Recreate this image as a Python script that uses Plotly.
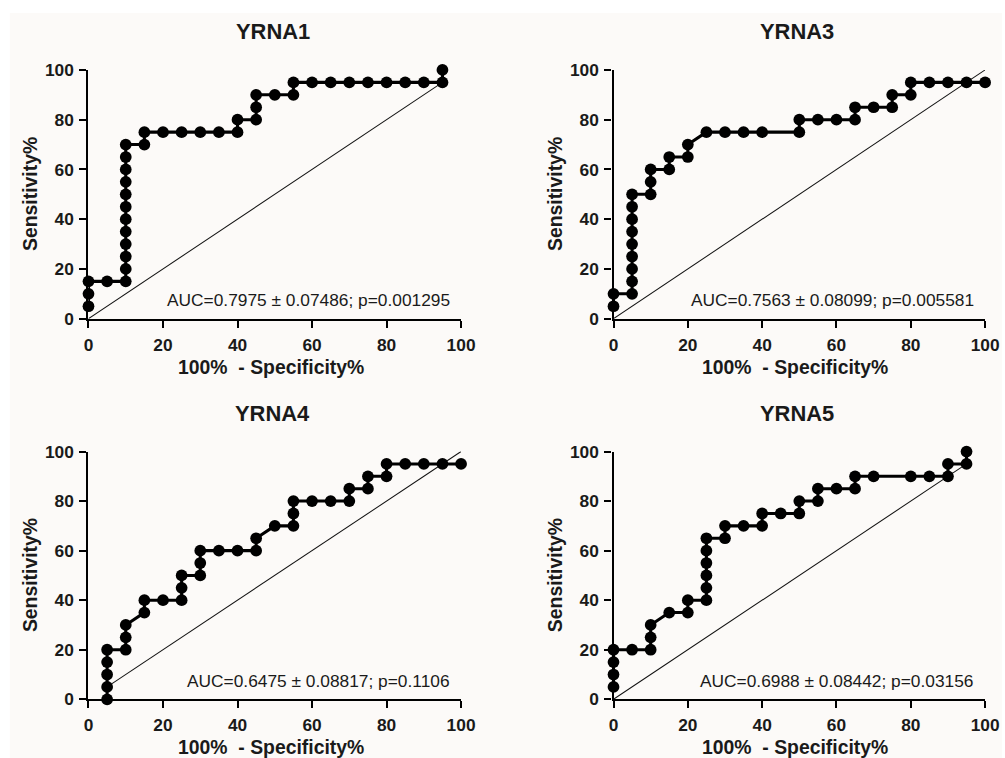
import plotly.graph_objects as go

# The capture maps figure pixels to page pixels approx. as page = a + s*fig; design in page px.
AX, SX = 4.2, 0.985
AY, SY = 8.0, 0.975
S = (SX + SY) / 2
PAGE_W, PAGE_H = 1005, 758
W = int(round((PAGE_W - AX) / SX))
H = int(round((PAGE_H - AY) / SY))

titles = ["YRNA1", "YRNA3", "YRNA4", "YRNA5"]
auc_texts = [
    "AUC=0.7975 ± 0.07486; p=0.001295",
    "AUC=0.7563 ± 0.08099; p=0.005581",
    "AUC=0.6475 ± 0.08817; p=0.1106",
    "AUC=0.6988 ± 0.08442; p=0.03156",
]

# 100% - Specificity% (x) and Sensitivity% (y) for each panel
x_yrna1 = [0, 0, 0, 5, 10, 10, 10, 10, 10, 10, 10, 10, 10, 10, 10, 10, 15, 15, 20, 25, 30, 35, 40, 40,
           45, 45, 45, 50, 55, 55, 60, 65, 70, 75, 80, 85, 90, 95, 95]
y_yrna1 = [5, 10, 15, 15, 15, 20, 25, 30, 35, 40, 45, 50, 55, 60, 65, 70, 70, 75, 75, 75, 75, 75, 75, 80,
           80, 85, 90, 90, 90, 95, 95, 95, 95, 95, 95, 95, 95, 95, 100]

x_yrna3 = [0, 0, 5, 5, 5, 5, 5, 5, 5, 5, 5, 10, 10, 10, 15, 15, 20, 20, 25, 30, 35, 40, 50, 50,
           55, 60, 65, 65, 70, 75, 75, 80, 80, 85, 90, 95, 100]
y_yrna3 = [5, 10, 10, 15, 20, 25, 30, 35, 40, 45, 50, 50, 55, 60, 60, 65, 65, 70, 75, 75, 75, 75, 75, 80,
           80, 80, 80, 85, 85, 85, 90, 90, 95, 95, 95, 95, 95]

x_yrna4 = [5, 5, 5, 5, 5, 10, 10, 10, 15, 15, 20, 25, 25, 25, 30, 30, 30, 35, 40, 45, 45, 50,
           55, 55, 55, 60, 65, 70, 70, 75, 75, 80, 80, 85, 90, 95, 100]
y_yrna4 = [0, 5, 10, 15, 20, 20, 25, 30, 35, 40, 40, 40, 45, 50, 50, 55, 60, 60, 60, 60, 65, 70,
           70, 75, 80, 80, 80, 80, 85, 85, 90, 90, 95, 95, 95, 95, 95]

x_yrna5 = [0, 0, 0, 0, 5, 10, 10, 10, 15, 20, 20, 25, 25, 25, 25, 25, 25, 30, 30, 35, 40, 40, 45,
           50, 50, 55, 55, 60, 65, 65, 70, 80, 85, 90, 90, 95, 95]
y_yrna5 = [5, 10, 15, 20, 20, 20, 25, 30, 35, 35, 40, 40, 45, 50, 55, 60, 65, 65, 70, 70, 70, 75, 75,
           75, 80, 80, 85, 85, 85, 90, 90, 90, 90, 90, 95, 95, 100]

tick_vals = [0, 20, 40, 60, 80, 100]
xtitle = "100%  - Specificity%"
ytitle = "Sensitivity%"

series = [(x_yrna1, y_yrna1), (x_yrna3, y_yrna3), (x_yrna4, y_yrna4), (x_yrna5, y_yrna5)]

# panel pixel boxes on the page: (left, right, top, bottom)
boxes = [(88, 462, 68, 317), (615, 988, 68, 317), (88, 462, 450, 698), (615, 988, 450, 698)]

FONT = "Liberation Sans, Arial, sans-serif"
TXT = "#1a1a1a"


def sz(v):
    return v / S


def px(xp):
    return ((xp - AX) / SX) / W


def py(yp):
    return 1 - ((yp - AY) / SY) / H


fig = go.Figure()
layout = dict(
    width=W, height=H,
    margin=dict(l=0, r=0, t=0, b=0),
    paper_bgcolor="white", plot_bgcolor="rgba(0,0,0,0)",
    showlegend=False,
    font=dict(family=FONT, color=TXT),
)
annotations = []
shapes = [dict(type="rect", xref="paper", yref="paper", x0=px(9), x1=1, y0=0, y1=py(11),
               fillcolor="#fcfaf8", line=dict(width=0), layer="below")]

for i, ((xs, ys), (l, r, t, b)) in enumerate(zip(series, boxes)):
    n = i + 1
    xa = "x" if n == 1 else f"x{n}"
    ya = "y" if n == 1 else f"y{n}"
    # diagonal reference line across the curve's x span
    lo, hi = min(xs), max(xs)
    fig.add_trace(go.Scatter(x=[lo, hi], y=[lo, hi], mode="lines",
                             line=dict(color="#111", width=sz(1)), xaxis=xa, yaxis=ya,
                             hoverinfo="skip", cliponaxis=False))
    fig.add_trace(go.Scatter(x=xs, y=ys, mode="lines+markers",
                             line=dict(color="black", width=sz(3)),
                             marker=dict(color="black", size=sz(11.5)),
                             xaxis=xa, yaxis=ya, cliponaxis=False))
    axis_common = dict(range=[0, 100], tickvals=tick_vals, showgrid=False, zeroline=False,
                       showline=True, linecolor="black", linewidth=sz(2),
                       ticks="outside", ticklen=sz(7), tickwidth=sz(2), tickcolor="black",
                       tickfont=dict(family=FONT, size=sz(17), color=TXT, weight="bold"),
                       fixedrange=True, ticklabelstandoff=2)
    layout[f"xaxis{'' if n == 1 else n}"] = dict(
        axis_common, domain=[px(l), px(r)], anchor=ya)
    layout[f"yaxis{'' if n == 1 else n}"] = dict(
        axis_common, domain=[py(b), py(t)], anchor=xa)

    cx = (l + r) / 2
    annotations.append(dict(text=f"<b>{titles[i]}</b>", xref="paper", yref="paper",
                            x=px(cx - 2), y=py(t - 38), xanchor="center", yanchor="middle",
                            showarrow=False, font=dict(family=FONT, size=sz(21.5), color=TXT)))
    annotations.append(dict(text=f"<b>{xtitle}</b>", xref="paper", yref="paper",
                            x=px(cx - 4), y=py(b + 48), xanchor="center", yanchor="middle",
                            showarrow=False, font=dict(family=FONT, size=sz(19), color=TXT)))
    annotations.append(dict(text=f"<b>{ytitle}</b>", xref="paper", yref="paper",
                            x=px(l - 58), y=py((t + b) / 2), xanchor="center",
                            yanchor="middle", textangle=-90,
                            showarrow=False, font=dict(family=FONT, size=sz(19), color=TXT)))
    annotations.append(dict(text=auc_texts[i], xref=xa, yref=ya, x=97.5, y=7.5,
                            xanchor="right", yanchor="middle", showarrow=False,
                            font=dict(family=FONT, size=sz(17), color=TXT)))

layout["annotations"] = annotations
layout["shapes"] = shapes
fig.update_layout(**layout)
fig.write_html("out.html")
